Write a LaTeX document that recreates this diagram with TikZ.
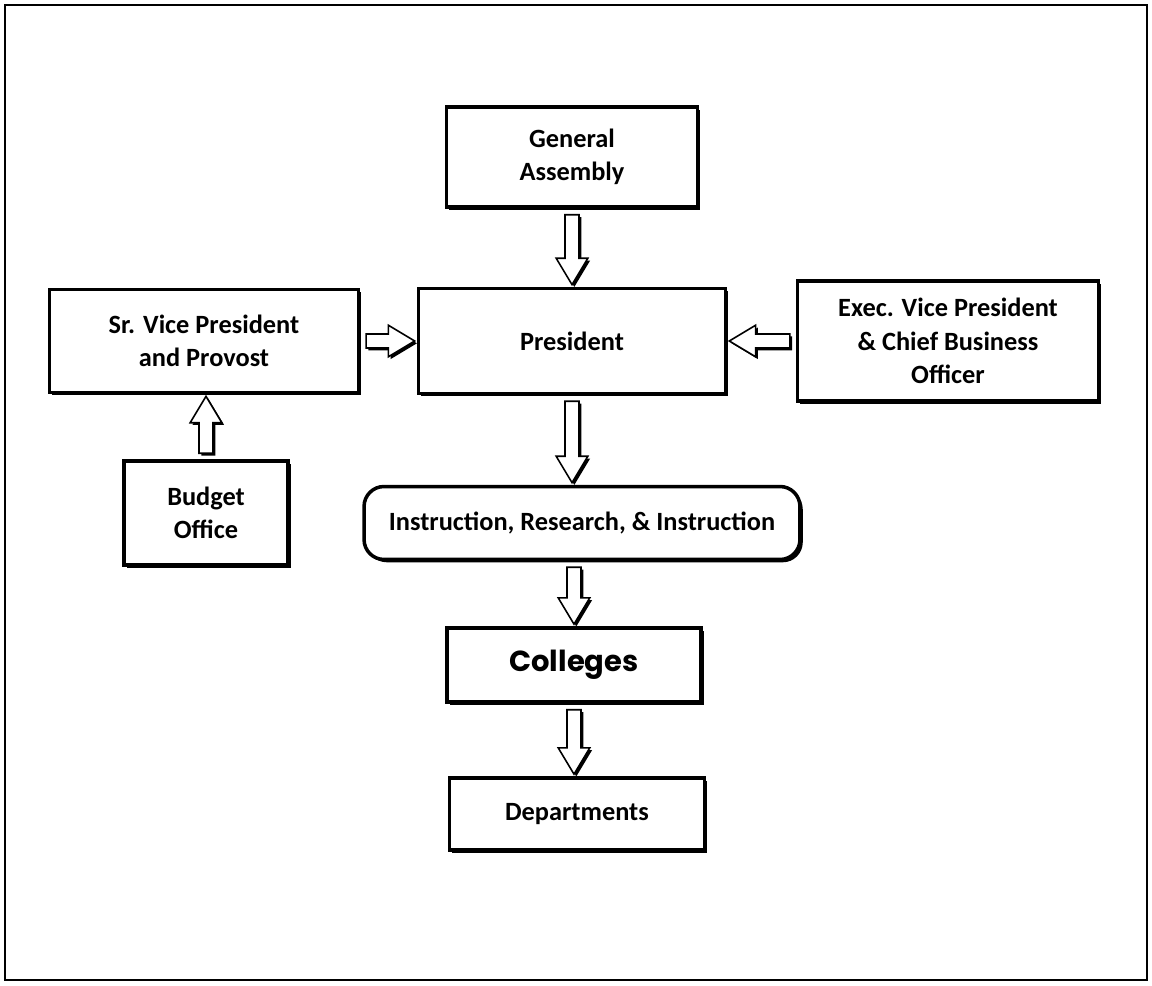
\documentclass[tikz,border=0pt]{standalone}
\usepackage{fontspec}
\setmainfont{Carlito}
\newfontfamily\widefont{Poppins}
\usetikzlibrary{calc,shadows}

\tikzset{
  unitbox/.style={draw, line width=2pt, fill=white, align=center,
    font=\bfseries\fontsize{15}{19}\selectfont,
    drop shadow={shadow xshift=1.6pt, shadow yshift=-1.6pt, fill=black, opacity=1}},
  roundbox/.style={unitbox, rounded corners=0.4cm},
}

% hollow block arrow from #1 to #2, with a small shadow
\newcommand{\blockarrow}[2]{%
  \fill[black] let \p1=($(#2)-(#1)$), \n1={atan2(\y1,\x1)}, \n2={veclen(\x1,\y1)-1.2pt}, \n3={\n2-15pt} in
    [shift={(#1)}, xshift=1.3pt, yshift=-1.3pt, rotate=\n1]
    (3.4pt,-4pt) -- (\n3,-4pt) -- (\n3,-9pt) -- (\n2,0pt) -- (\n3,9pt) -- (\n3,4pt) -- (3.4pt,4pt) -- cycle;
  \draw[line width=0.9pt, fill=white] let \p1=($(#2)-(#1)$), \n1={atan2(\y1,\x1)}, \n2={veclen(\x1,\y1)-1.2pt}, \n3={\n2-15pt} in
    [shift={(#1)}, rotate=\n1]
    (3.4pt,-4pt) -- (\n3,-4pt) -- (\n3,-9pt) -- (\n2,0pt) -- (\n3,9pt) -- (\n3,4pt) -- (3.4pt,4pt) -- cycle;
}

\begin{document}
\begin{tikzpicture}[x=0.02cm, y=-0.02cm]
  \useasboundingbox (0,0) rectangle (1152,986);
  \draw[line width=1pt] (5,5) rectangle (1147,980);

  \node[unitbox, minimum width=5.02cm, minimum height=2cm] (ga) at (572,157) {General\\Assembly};
  \node[unitbox, minimum width=6.14cm, minimum height=2.1cm] (pres) at (572,341) {President};
  \node[unitbox, minimum width=6.18cm, minimum height=2.06cm] (srvp) at (204,341) {Sr. Vice President\\and Provost};
  \node[unitbox, minimum width=3.28cm, minimum height=2.08cm] (budget) at (206,513) {Budget\\Office};
  \node[unitbox, minimum width=6.02cm, minimum height=2.4cm] (exec) at (948,341) {Exec. Vice President\\\& Chief Business\\Officer};
  \node[roundbox, minimum width=8.72cm, minimum height=1.46cm] (iri) at (582,523) {Instruction, Research, \& Instruction};
  \node[unitbox, minimum width=5.08cm, minimum height=1.48cm, font=\widefont\bfseries\fontsize{16.5}{20}\selectfont] (colleges) at (574,665) {Colleges};
  \node[unitbox, minimum width=5.1cm, minimum height=1.44cm] (depts) at (577,814) {Departments};

  \blockarrow{ga.south}{pres.north}
  \blockarrow{srvp.east}{pres.west}
  \blockarrow{exec.west}{pres.east}
  \blockarrow{budget.north}{srvp.south -| budget.north}
  \blockarrow{pres.south}{pres.south |- iri.north}
  \blockarrow{colleges.north |- iri.south}{colleges.north}
  \blockarrow{colleges.south}{colleges.south |- depts.north}
\end{tikzpicture}
\end{document}
